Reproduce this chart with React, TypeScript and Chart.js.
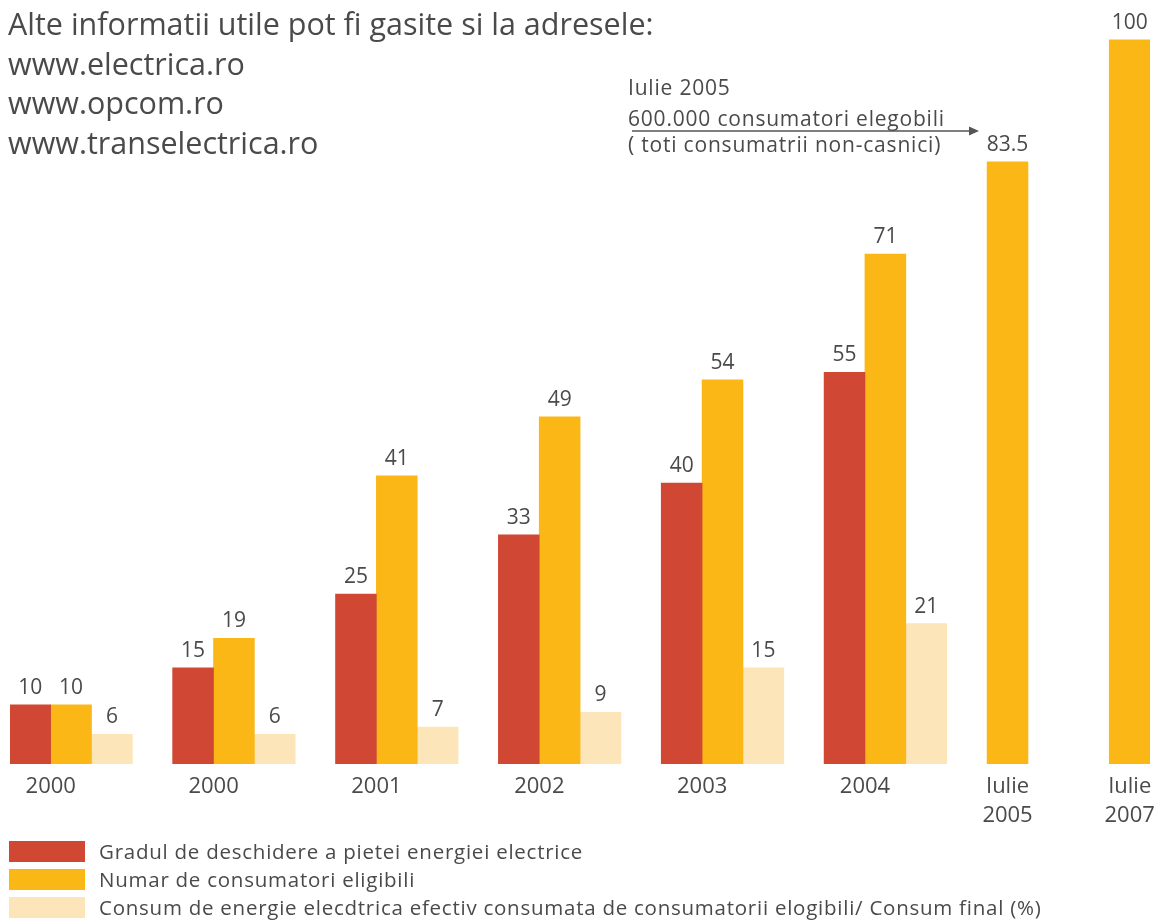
import React, { useEffect, useRef } from 'react';
import { Chart, registerables } from 'chart.js';

Chart.register(...registerables);

// ---- data ----
const categories = ['2000', '2000', '2001', '2002', '2003', '2004', 'Iulie 2005', 'Iulie 2007'];
const marketOpening = [10, 15, 25, 33, 40, 55, null, null];
const eligibleConsumers = [10, 19, 41, 49, 54, 71, 83.5, 100];
const eligibleConsumption = [6, 6, 7, 9, 15, 21, null, null];
const seriesNames = [
  'Gradul de deschidere a pietei energiei electrice',
  'Numar de consumatori eligibili',
  'Consum de energie elecdtrica efectiv consumata de consumatorii elogibili/ Consum final (%)',
];
const titleLines = [
  'Alte informatii utile pot fi gasite si la adresele:',
  'www.electrica.ro',
  'www.opcom.ro',
  'www.transelectrica.ro',
];
const noteLines = ['Iulie 2005', '600.000 consumatori elegobili', '( toti consumatrii non-casnici)'];

// ---- layout / style ----
const FONT = '"Open Sans", "Noto Sans", sans-serif';
const TEXT = '#4a4a4a';
const COLORS = ['#D04833', '#FBB716', '#FDE5BA'];
const W = 1163;
const CANVAS_H = 838;
const PAD_L = 10;
const PAD_R = 9;
const SLOTS = 28; // bar-width units across the plot
const SLOT_PX = (W - PAD_L - PAD_R) / SLOTS;
// centre of each category's bar group, in bar-width units
const GROUP_CENTER = [1.5, 5.5, 9.5, 13.5, 17.5, 21.5, 24.5, 27.5];
const NOTE_TOPS = [77, 107.5, 134];

const valueLabels = {
  id: 'valueLabels',
  afterDatasetsDraw(chart: any) {
    const ctx = chart.ctx;
    ctx.save();
    ctx.font = `21px ${FONT}`;
    ctx.fillStyle = TEXT;
    ctx.textAlign = 'center';
    ctx.textBaseline = 'alphabetic';
    chart.data.datasets.forEach((ds: any, di: number) => {
      const meta = chart.getDatasetMeta(di);
      meta.data.forEach((el: any, i: number) => {
        const v = ds.data[i].y;
        if (v == null) return;
        ctx.fillText(String(v), el.x, el.y - 11);
      });
    });
    ctx.restore();
  },
};

export default function App() {
  const ref = useRef<HTMLCanvasElement>(null);

  useEffect(() => {
    const series = [marketOpening, eligibleConsumers, eligibleConsumption];
    const datasets = series.map((values, si) => ({
      label: seriesNames[si],
      data: values.map((v, i) => ({ x: GROUP_CENTER[i], y: v })),
      backgroundColor: COLORS[si],
      borderWidth: 0,
      barThickness: SLOT_PX,
      skipNull: true,
    }));
    const tickPos = categories.map((_, i) => {
      const n = series.filter((s) => s[i] != null).length;
      return n > 1 ? GROUP_CENTER[i] - n / 2 + 1 : GROUP_CENTER[i];
    });
    const tickLabels = categories.map((c) => (c.includes(' ') ? c.split(' ') : c));

    const chart = new Chart(ref.current!, {
      type: 'bar',
      data: { datasets } as any,
      options: {
        responsive: false,
        animation: false,
        layout: { padding: { left: PAD_L, right: PAD_R, top: 20, bottom: 0 } },
        plugins: { legend: { display: false }, tooltip: { enabled: false } },
        scales: {
          x: {
            type: 'linear',
            min: 0,
            max: SLOTS,
            offset: false,
            grid: { display: false, drawTicks: false },
            border: { display: false },
            afterBuildTicks: (axis: any) => {
              axis.ticks = tickPos.map((v) => ({ value: v }));
            },
            ticks: {
              autoSkip: false,
              maxRotation: 0,
              minRotation: 0,
              padding: 8,
              color: TEXT,
              font: { family: FONT, size: 22, lineHeight: 1.32 },
              callback: (_v: any, i: number) => tickLabels[i],
            },
          },
          y: { display: false, min: 2, max: 102.7 },
        },
      } as any,
      plugins: [valueLabels],
    });
    return () => chart.destroy();
  }, []);

  return (
    <div style={{ position: 'absolute', left: 0, top: 0, width: W, height: 920, background: '#fff', fontFamily: FONT, color: TEXT }}>
      <canvas ref={ref} width={W} height={CANVAS_H} style={{ position: 'absolute', left: 0, top: 0, width: W, height: CANVAS_H }} />
      <div style={{ position: 'absolute', left: 8, top: 4, fontSize: 30.5, lineHeight: '39.5px', whiteSpace: 'nowrap' }}>
        {titleLines.map((t, i) => (
          <div key={i}>{t}</div>
        ))}
      </div>
      {noteLines.map((t, i) => (
        <div
          key={i}
          style={{ position: 'absolute', left: 628, top: NOTE_TOPS[i], fontSize: 21, lineHeight: '21px', letterSpacing: '0.8px', whiteSpace: 'nowrap' }}
        >
          {t}
        </div>
      ))}
      <svg width={W} height={920} style={{ position: 'absolute', left: 0, top: 0, pointerEvents: 'none' }}>
        <line x1={632} y1={131} x2={972} y2={131} stroke="#555" strokeWidth={1.6} />
        <polygon points="969,126.5 979,131 969,135.5" fill="#555" />
      </svg>
      <div style={{ position: 'absolute', left: 9, top: 837 }}>
        {seriesNames.map((name, i) => (
          <div key={i} style={{ display: 'flex', alignItems: 'center', height: 28 }}>
            <div style={{ width: 76, height: 21, background: COLORS[i], marginRight: 14 }} />
            <div style={{ fontSize: 20.5, lineHeight: '21px', letterSpacing: '0.75px', whiteSpace: 'nowrap' }}>{name}</div>
          </div>
        ))}
      </div>
    </div>
  );
}
